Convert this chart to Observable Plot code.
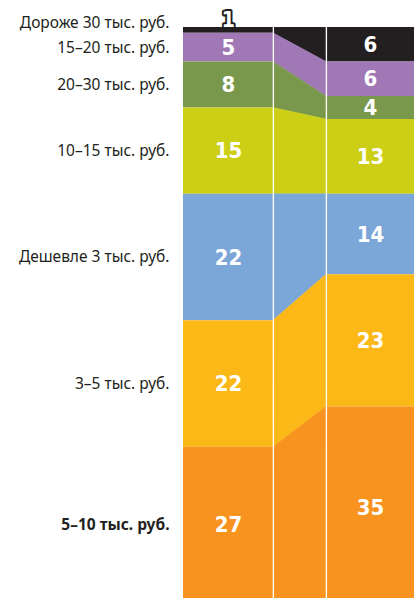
<!DOCTYPE html>
<html><head><meta charset="utf-8">
<script src="https://cdn.jsdelivr.net/npm/d3@7"></script>
<script src="https://cdn.jsdelivr.net/npm/@observablehq/plot@0.6"></script>
<style>
html,body{margin:0;padding:0;background:#fff;overflow:hidden;}
#chart svg{display:block;}
</style>
</head><body><div id="chart"></div>
<script>
const categories = ["Дороже 30 тыс. руб.", "15–20 тыс. руб.", "20–30 тыс. руб.", "10–15 тыс. руб.", "Дешевле 3 тыс. руб.", "3–5 тыс. руб.", "5–10 тыс. руб."];
const leftValues = [1, 5, 8, 15, 22, 22, 27];
const rightValues = [6, 6, 4, 13, 14, 23, 35];
const colors = ["#231f20", "#9f78b5", "#7a984b", "#cdcf17", "#7ba6d8", "#fbb817", "#f7931e"];
const highlighted = "5–10 тыс. руб.";

function stack(values) {
  let acc = 0;
  return values.map((v, i) => { const y1 = acc; acc += v; return {cat: categories[i], value: v, y1, y2: acc, mid: (y1 + acc) / 2}; });
}
const L = stack(leftValues), R = stack(rightValues);
const LX = [0, 1], RX = [1.59, 2.57];
const conn = categories.flatMap((c, i) => [
  {cat: c, x: LX[1], y1: L[i].y1, y2: L[i].y2},
  {cat: c, x: RX[0], y1: R[i].y1, y2: R[i].y2}
]);
const numFont = "'DejaVu Sans Condensed', 'Open Sans', Roboto, sans-serif";
const catFont = "'Noto Sans', 'Open Sans', sans-serif";
const small = d => d.value < 3;
const big = d => d.value >= 3;

const chart = Plot.plot({
  width: 414, height: 598,
  marginLeft: 183, marginRight: 0, marginTop: 27, marginBottom: 0,
  x: {domain: [0, 2.57], axis: null},
  y: {domain: [0, 99.3], reverse: true, axis: null},
  color: {domain: categories, range: colors},
  style: {background: "white"},
  marks: [
    Plot.rect(L, {x1: () => LX[0], x2: () => LX[1], y1: "y1", y2: "y2", fill: "cat", clip: true}),
    Plot.rect(R, {x1: () => RX[0], x2: () => RX[1], y1: "y1", y2: "y2", fill: "cat", clip: true}),
    Plot.area(conn, {x1: "x", y1: "y1", y2: "y2", z: "cat", fill: "cat", stroke: "cat", strokeWidth: 0.4, clip: true}),
    Plot.ruleX([LX[1], RX[0]], {y1: 0, y2: 99.3, stroke: "white", strokeWidth: 1.3}),
    Plot.text(L.filter(big), {x: () => (LX[0] + LX[1]) / 2, y: "mid", text: d => String(d.value), fill: "white", fontSize: 22, fontWeight: "bold", fontFamily: numFont}),
    Plot.text(R.filter(big), {x: () => (RX[0] + RX[1]) / 2, y: "mid", text: d => String(d.value), fill: "white", fontSize: 22, fontWeight: "bold", fontFamily: numFont}),
    Plot.text(L.filter(small), {x: () => (LX[0] + LX[1]) / 2, y: "y1", dy: -7, text: d => String(d.value), fill: "white", stroke: "#231f20", strokeWidth: 4, paintOrder: "stroke", fontSize: 21, fontWeight: "bold", fontFamily: numFont}),
    Plot.text(L.filter(d => big(d) && d.cat !== highlighted), {x: () => LX[0], y: "mid", dx: -14, textAnchor: "end", text: "cat", fill: "#231f20", fontSize: 15.5, fontFamily: catFont}),
    Plot.text(L.filter(d => d.cat === highlighted), {x: () => LX[0], y: "mid", dx: -14, textAnchor: "end", text: "cat", fill: "#231f20", fontSize: 15.5, fontWeight: "bold", fontFamily: catFont}),
    Plot.text(L.filter(small), {x: () => LX[0], y: "mid", dx: -14, dy: -7, textAnchor: "end", text: "cat", fill: "#231f20", fontSize: 15.5, fontFamily: catFont})
  ]
});
document.getElementById("chart").appendChild(chart);
</script>
</body></html>
